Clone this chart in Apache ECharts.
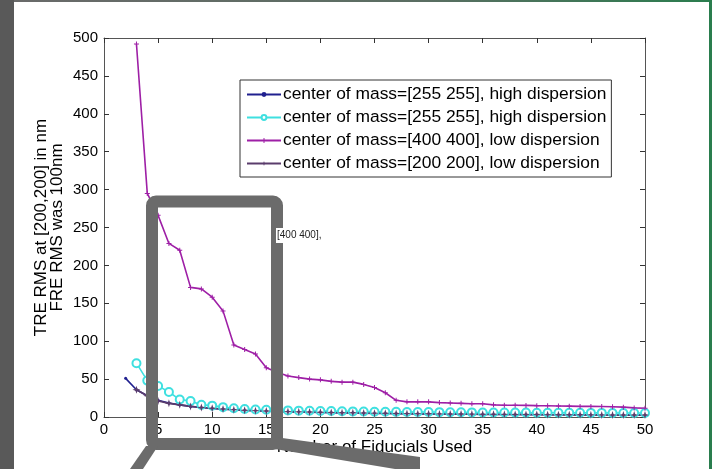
<!DOCTYPE html>
<html>
<head>
<meta charset="utf-8">
<script src="https://cdn.jsdelivr.net/npm/echarts@6/dist/echarts.min.js"></script>
<style>
html,body{margin:0;padding:0;background:#fff;}
#chart{width:712px;height:469px;}
</style>
</head>
<body>
<div id="chart"></div>
<script>
// ---- data ----
var seriesNames = [
  'center of mass=[255 255], high dispersion',
  'center of mass=[255 255], high dispersion\u200b',
  'center of mass=[400 400], low dispersion',
  'center of mass=[200 200], low dispersion'
];
var xNavy = [2,3,4,5,6,7,8,9,10,11,12,13,14,15,16,17,18,19,20,21,22,23,24,25,26,27,28,29,30,31,32,33,34,35,36,37,38,39,40,41,42,43,44,45,46,47,48,49,50];
var yNavy = [51,36,28,22,18.5,16,14,12.5,11.3,10.3,9.5,8.8,8.2,7.6,7.2,6.8,6.5,6.2,5.9,5.6,5.4,5.2,5.0,4.8,4.6,4.4,4.3,4.1,4.0,3.9,3.8,3.7,3.6,3.5,3.4,3.3,3.2,3.1,3.0,2.95,2.9,2.8,2.75,2.7,2.6,2.55,2.5,2.45,2.4];
var xCyan = [3,4,5,6,7,8,9,10,11,12,13,14,15,16,17,18,19,20,21,22,23,24,25,26,27,28,29,30,31,32,33,34,35,36,37,38,39,40,41,42,43,44,45,46,47,48,49,50];
var yCyan = [71,48,41,33,23,21,16,15,13,11.5,10.5,10,9.5,9,8.7,8.4,8.2,8,7.8,7.6,7.4,7.2,7,6.9,6.8,6.7,6.6,6.5,6.4,6.3,6.2,6.1,6,6,5.9,5.8,5.8,5.7,5.6,5.6,5.5,5.5,5.4,5.4,5.3,5.3,5.2,5.2];
var xMagenta = [3,4,5,6,7,8,9,10,11,12,13,14,15,16,17,18,19,20,21,22,23,24,25,26,27,28,29,30,31,32,33,34,35,36,37,38,39,40,41,42,43,44,45,46,47,48,49,50];
var yMagenta = [492,295,266,229,220,171,169,158,140,95,89,83,65,59,54,52,50,49,47,46,46,43,39,32,22,20,20,20,19,18.5,18,17.5,17.5,16,15.5,15.5,15.3,15,14.8,14.5,14.3,14,14,13.8,13.5,13,12,11.5];
var xPurple = [3,4,5,6,7,8,9,10,11,12,13,14,15,16,17,18,19,20,21,22,23,24,25,26,27,28,29,30,31,32,33,34,35,36,37,38,39,40,41,42,43,44,45,46,47,48,49,50];
var yPurple = [36,28,21,18,16,14,12.5,11.5,10.5,9.7,9,8.4,8,7.5,7.1,6.8,6.5,6.2,5.9,5.7,5.5,5.3,5.1,4.9,4.7,4.5,4.4,4.2,4.1,4,3.9,3.8,3.7,3.6,3.5,3.4,3.3,3.2,3.1,3.05,3,2.9,2.85,2.8,2.75,2.7,2.65,2.6];
var xTitle = 'Number of Fiducials Used';
var yTitle = 'TRE RMS at [200,200] in nm\nFRE RMS was 100nm';
var overlayText = '[400 400],';

function pairs(xs, ys){ return xs.map(function(x,i){ return [x, ys[i]]; }); }

var FONT = '"Liberation Sans", Arial, sans-serif';
var chart = echarts.init(document.getElementById('chart'), null, {renderer:'canvas'});

var axisCommon = {
  axisLine:{show:true, onZero:false, lineStyle:{color:'#555', width:1}},
  axisTick:{show:true, inside:true, length:5, lineStyle:{color:'#333'}},
  splitLine:{show:false}
};

var option = {
  animation:false,
  backgroundColor:'#ffffff',
  textStyle:{fontFamily:FONT},
  grid:{left:104, right:67, top:38, bottom:52, outerBoundsMode:'none'},
  legend:{
    orient:'vertical', left:240, top:80,
    data: seriesNames,
    backgroundColor:'#fff', borderColor:'#333', borderWidth:1,
    padding:[6,5,5,6], itemGap:6, itemWidth:34, itemHeight:6,
    textStyle:{fontSize:17.4, color:'#000', fontFamily:FONT, padding:[0,0,0,-3]}
  },
  xAxis:[
    Object.assign({type:'value', min:0, max:50, interval:5, position:'bottom',
      name:xTitle, nameLocation:'middle', nameGap:22, nameMoveOverlap:false,
      nameTextStyle:{fontSize:17, color:'#000', fontFamily:FONT},
      axisLabel:{fontSize:15, color:'#000', margin:5, fontFamily:FONT}}, axisCommon),
    Object.assign({type:'value', min:0, max:50, interval:5, position:'top',
      axisLabel:{show:false}}, axisCommon)
  ],
  yAxis:[
    Object.assign({type:'value', min:0, max:500, interval:50, position:'left',
      name:yTitle, nameLocation:'middle', nameGap:38, nameMoveOverlap:false,
      nameTextStyle:{fontSize:17, color:'#000', fontFamily:FONT, lineHeight:16.5, align:'center'},
      axisLabel:{fontSize:15, color:'#000', margin:6, fontFamily:FONT}}, axisCommon),
    Object.assign({type:'value', min:0, max:500, interval:50, position:'right',
      axisLabel:{show:false}}, axisCommon)
  ],
  series:[
    {name:seriesNames[0], type:'line', data:pairs(xNavy,yNavy), symbol:'circle', symbolSize:3,
      lineStyle:{color:'#20208f', width:1.6}, itemStyle:{color:'#20208f'}},
    {name:seriesNames[1], type:'line', data:pairs(xCyan,yCyan), symbol:'emptyCircle', symbolSize:8,
      lineStyle:{color:'#3fe0e0', width:1.6}, itemStyle:{color:'#3fe0e0', borderWidth:1.5}},
    {name:seriesNames[2], type:'line', data:pairs(xMagenta,yMagenta), symbol:'path://M4,0H6V4H10V6H6V10H4V6H0V4H4Z', symbolSize:5,
      lineStyle:{color:'#9e1fa6', width:1.6}, itemStyle:{color:'#9e1fa6'}},
    {name:seriesNames[3], type:'line', data:pairs(xPurple,yPurple), symbol:'path://M5,0L6.2,3.8L10,5L6.2,6.2L5,10L3.8,6.2L0,5L3.8,3.8Z', symbolSize:8,
      lineStyle:{color:'#5a3c6c', width:1.6}, itemStyle:{color:'#5a3c6c'}}
  ],
  graphic:[
    {type:'rect', z:100, shape:{x:0,y:0,width:712,height:2},
      style:{fill:new echarts.graphic.LinearGradient(0,0,1,0,[{offset:0,color:'#6a6a6a'},{offset:0.6,color:'#5a6e62'},{offset:1,color:'#2a7d4e'}])}},
    {type:'rect', z:100, shape:{x:709,y:0,width:3,height:469}, style:{fill:'#2a7d4e'}},
    {type:'rect', z:100, shape:{x:0,y:0,width:14,height:469}, style:{fill:'#595959'}},
    {type:'rect', z:100, shape:{x:152,y:201.5,width:125,height:242.5,r:4}, style:{fill:null, stroke:'#6b6b6b', lineWidth:12}},
    {type:'polygon', z:100, shape:{points:[[146,446],[158,446],[143,469],[130,469]]}, style:{fill:'#6b6b6b'}},
    {type:'polygon', z:100, shape:{points:[[275,437],[420,457],[420,469],[395,469],[275,449]]}, style:{fill:'#6b6b6b'}},
    {type:'rect', z:100, shape:{x:276,y:228,width:46,height:15}, style:{fill:'#fff'}},
    {type:'text', z:101, x:277, y:235.5, style:{text:overlayText, fill:'#222', font:'10px "Liberation Sans Narrow", "Liberation Sans", Arial', verticalAlign:'middle'}}
  ]
};
chart.setOption(option);
</script>
</body>
</html>
